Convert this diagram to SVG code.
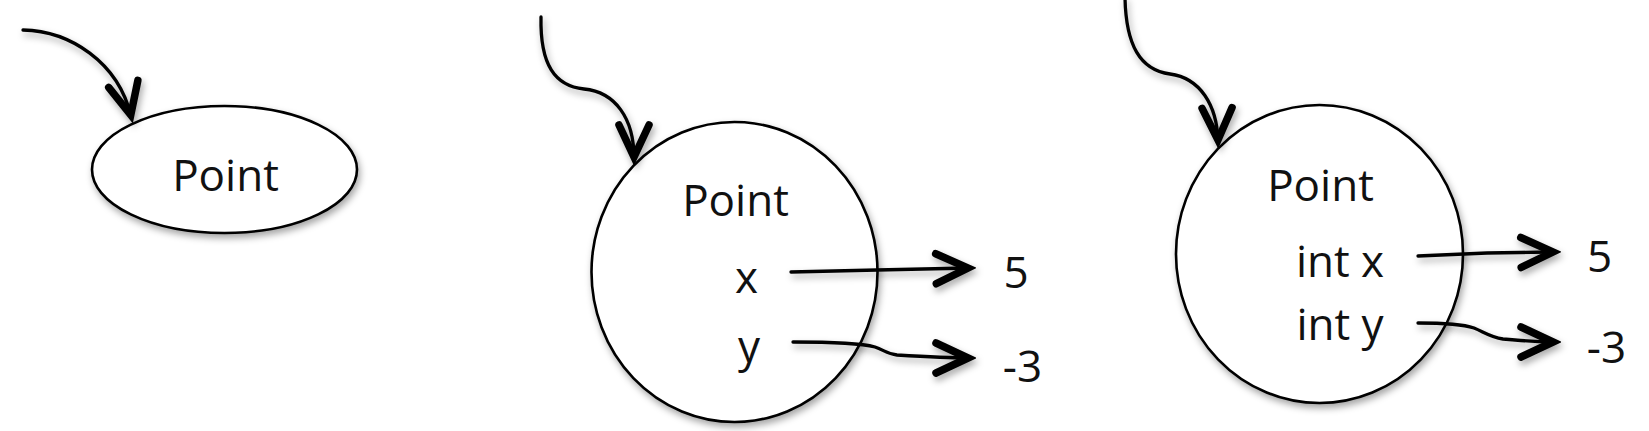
<svg xmlns="http://www.w3.org/2000/svg" width="1649" height="431" viewBox="0 0 1649 431">
  <style>
    .node { fill: #ffffff; stroke: #000000; stroke-width: 2.6; }
    .lbl { font-family: "Open Sans", "Noto Sans", "Liberation Sans", sans-serif; font-size: 44px; fill: #111111; text-anchor: middle; }
    .conn { fill: none; stroke: #000000; stroke-width: 3.3; stroke-linecap: round; }
  </style>
  <defs>
    <filter id="shadow" x="-10%" y="-10%" width="130%" height="130%">
      <feDropShadow dx="2" dy="4" stdDeviation="3.5" flood-color="#000000" flood-opacity="0.35"/>
    </filter>
    <marker id="head" viewBox="-42 -24 50 48" refX="1" refY="0" markerWidth="50" markerHeight="48" markerUnits="userSpaceOnUse" orient="auto">
      <path d="M-32,-15 L0,0 L-32,15" fill="none" stroke="#000000" stroke-width="7.5" stroke-linecap="round" stroke-linejoin="miter" stroke-miterlimit="3"/>
    </marker>
  </defs>
  <rect x="0" y="0" width="1649" height="431" fill="#ffffff"/>

  <g id="node-point1">
    <ellipse class="node" cx="224.5" cy="169.5" rx="132.5" ry="63.5" filter="url(#shadow)"/>
    <text class="lbl" x="225.5" y="191">Point</text>
  </g>

  <g id="node-point2">
    <ellipse class="node" cx="734.5" cy="272" rx="143" ry="150" filter="url(#shadow)"/>
    <text class="lbl" x="735.5" y="216">Point</text>
    <text class="lbl" x="746.5" y="293">x</text>
    <text class="lbl" x="749" y="362">y</text>
  </g>

  <g id="node-point3">
    <ellipse class="node" cx="1319.5" cy="254" rx="143.5" ry="149" filter="url(#shadow)"/>
    <text class="lbl" x="1320.5" y="201">Point</text>
    <text class="lbl" x="1340" y="277">int x</text>
    <text class="lbl" x="1340" y="340">int y</text>
  </g>

  <g id="value-5a"><text class="lbl" x="1016" y="288">5</text></g>
  <g id="value-m3a"><text class="lbl" x="1022.5" y="382">-3</text></g>
  <g id="value-5b"><text class="lbl" x="1599.5" y="272">5</text></g>
  <g id="value-m3b"><text class="lbl" x="1606.5" y="363">-3</text></g>

  <g id="connectors" filter="url(#shadow)">
    <path class="conn" d="M23,30 C70,31 118,62 131,116" marker-end="url(#head)"/>
    <path class="conn" d="M541,17 C540,65 555,86 584,89 C615,92 634,118 634,158" marker-end="url(#head)"/>
    <path class="conn" d="M1125,-2 C1126,45 1140,70 1170,74 C1200,78 1217,105 1218,141" marker-end="url(#head)"/>
    <path class="conn" d="M791,272 L877,270 L969,268" marker-end="url(#head)"/>
    <path class="conn" d="M793,342 C830,342 860,343 875,347 C884,350 887,354 897,355 C930,357 955,358 969,358" marker-end="url(#head)"/>
    <path class="conn" d="M1418,256 L1487,253 L1554,252" marker-end="url(#head)"/>
    <path class="conn" d="M1418,323 C1440,323 1462,324 1474,328 C1484,332 1490,337 1503,339 C1525,341 1545,342 1554,342" marker-end="url(#head)"/>
  </g>
</svg>
